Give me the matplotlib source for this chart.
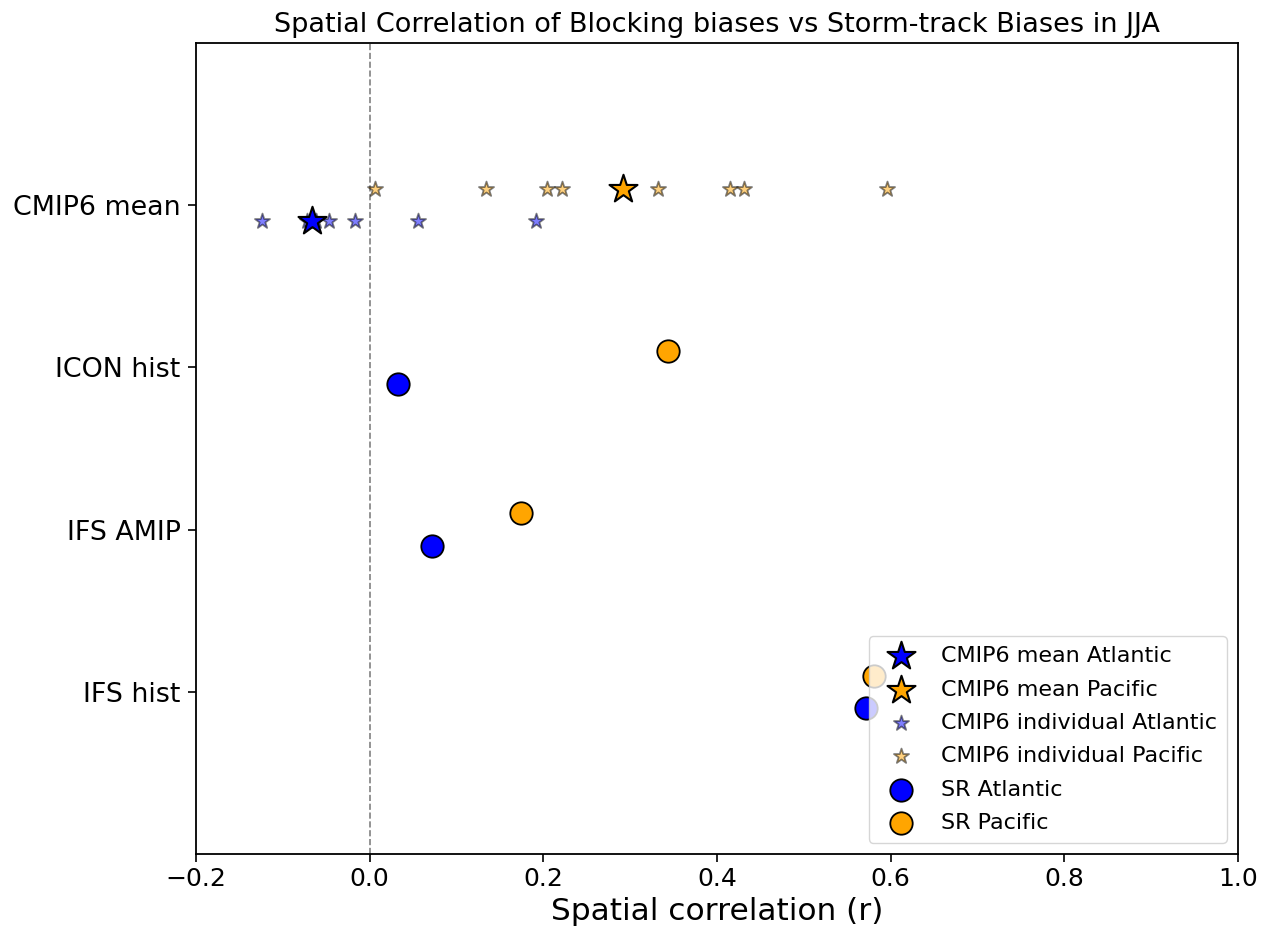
import matplotlib
matplotlib.use("Agg")
import matplotlib.pyplot as plt
import numpy as np

# Data
categories = ["IFS hist", "IFS AMIP", "ICON hist", "CMIP6 mean"]
cmip6_mean_atl = -0.067
cmip6_mean_pac = 0.292
cmip6_ind_atl = [-0.124, -0.072, -0.062, -0.047, -0.017, 0.056, 0.191]
cmip6_ind_pac = [0.006, 0.134, 0.204, 0.222, 0.332, 0.415, 0.431, 0.596]
sr_names = ["IFS hist", "IFS AMIP", "ICON hist"]
sr_atl = [0.572, 0.072, 0.033]
sr_pac = [0.581, 0.174, 0.344]

ypos = {c: i for i, c in enumerate(categories)}
off = 0.1

fig = plt.figure(figsize=(12.72, 9.39), dpi=100)
ax = fig.add_axes([0.1541, 0.0905, 0.8192, 0.8637])

yc = ypos["CMIP6 mean"]
ax.scatter([cmip6_mean_atl], [yc - off], marker="*", s=450, color="blue",
           edgecolor="black", linewidth=1.5, zorder=4, label="CMIP6 mean Atlantic")
ax.scatter([cmip6_mean_pac], [yc + off], marker="*", s=450, color="orange",
           edgecolor="black", linewidth=1.5, zorder=4, label="CMIP6 mean Pacific")
ax.scatter(cmip6_ind_atl, [yc - off] * len(cmip6_ind_atl), marker="*", s=130,
           color="blue", edgecolor="black", linewidth=1.3, alpha=0.5, zorder=3,
           label="CMIP6 individual Atlantic")
ax.scatter(cmip6_ind_pac, [yc + off] * len(cmip6_ind_pac), marker="*", s=130,
           color="orange", edgecolor="black", linewidth=1.3, alpha=0.5, zorder=3,
           label="CMIP6 individual Pacific")
ax.scatter(sr_atl, [ypos[n] - off for n in sr_names], marker="o", s=260,
           color="blue", edgecolor="black", linewidth=1.3, zorder=3, label="SR Atlantic")
ax.scatter(sr_pac, [ypos[n] + off for n in sr_names], marker="o", s=260,
           color="orange", edgecolor="black", linewidth=1.3, zorder=3, label="SR Pacific")

ax.axvline(0, color="gray", linestyle="--", linewidth=1.2, zorder=1)

ax.set_xlim(-0.2, 1.0)
ax.set_ylim(-1, 4)
ax.set_yticks(list(ypos.values()))
ax.set_yticklabels(categories, fontsize=19.4)
ax.tick_params(axis="x", labelsize=18, length=6, width=1.2)
ax.tick_params(axis="y", length=6, width=1.2, pad=5)
for sp in ax.spines.values():
    sp.set_linewidth(1.3)

ax.set_xlabel("Spatial correlation (r)", fontsize=22.5)
ax.set_title("Spatial Correlation of Blocking biases vs Storm-track Biases in JJA",
             fontsize=19.5, pad=8)

leg = ax.legend(loc="lower right", fontsize=16, borderpad=0.45, labelspacing=0.6)
leg.set_zorder(10)

fig.savefig("out.png", dpi=100)
